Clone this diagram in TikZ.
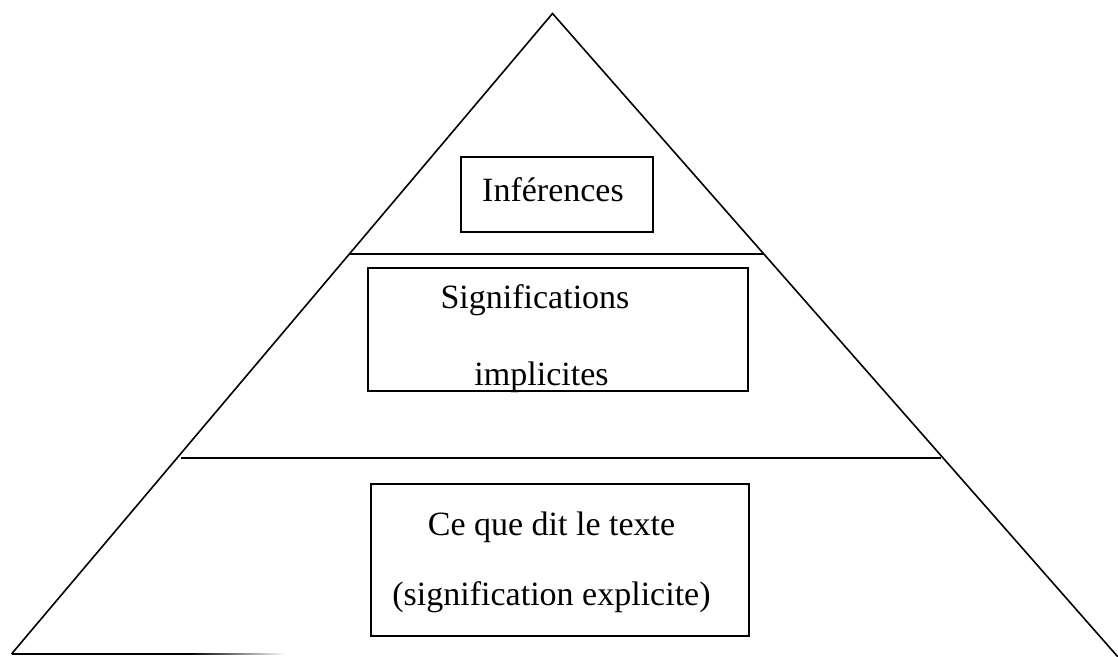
\documentclass[tikz,border=0pt]{standalone}
\usepackage{fontspec}
\setmainfont{Liberation Serif}
\begin{document}
\begin{tikzpicture}[x=1pt,y=-1pt,
  side/.style={line width=1.6pt,black},
  level/.style={line width=1.6pt,black},
  boxx/.style={draw,line width=2pt,rectangle,inner sep=0pt},
  txt/.style={anchor=base,inner sep=0pt,font=\fontsize{34}{40}\selectfont}]
\useasboundingbox (0,0) rectangle (1118,656);
\begin{scope}
\clip (0,0) rectangle (1118,656);
% triangle
\coordinate (apex) at (552.5,13.5);
\coordinate (bl) at (11.5,654);
\coordinate (br) at (1118,657);
\coordinate (fadeA) at (190,654);
\coordinate (fadeB) at (286,654);
\draw[side,line join=miter] (bl) -- (apex) -- (br);
\draw[side] (bl) -- (fadeA);
\shade[left color=black,right color=white] (190,653.2) rectangle (286,654.8);
% levels
\coordinate (l1a) at (350,254);
\coordinate (l1b) at (763,254);
\coordinate (l2a) at (181,458);
\coordinate (l2b) at (941,458);
\draw[level] (l1a) -- (l1b);
\draw[level] (l2a) -- (l2b);
\end{scope}
% boxes
\node[boxx,minimum width=192pt,minimum height=75pt] (b1) at (557,194.5) {};
\node[boxx,minimum width=380pt,minimum height=123pt] (b2) at (558,329.5) {};
\node[boxx,minimum width=378pt,minimum height=152pt] (b3) at (560,560) {};
% texts
\node[txt] (t1) at (553,201) {Inférences};
\node[txt] (t2) at (535,308) {Significations};
\node[txt] (t3) at (541.5,385) {implicites};
\node[txt] (t4) at (551.5,535) {Ce que dit le texte};
\node[txt] (t5) at (551.5,605) {(signification explicite)};
\end{tikzpicture}
\end{document}
